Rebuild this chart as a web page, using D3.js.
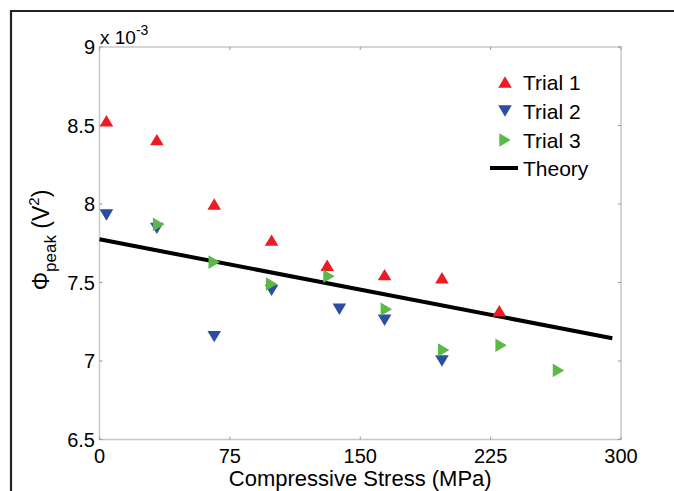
<!DOCTYPE html>
<html>
<head>
<meta charset="utf-8">
<script src="https://cdn.jsdelivr.net/npm/d3@7"></script>
<style>
  html, body { margin: 0; padding: 0; background: #fff; }
  svg { display: block; font-family: "Liberation Sans", Arial, sans-serif; }
</style>
</head>
<body>
<svg id="chart" width="674" height="491"></svg>
<script>
// Peak signal vs compressive stress, three trials plus theory
const xTicks = [0, 75, 150, 225, 300];
const yTicks = [6.5, 7, 7.5, 8, 8.5, 9];

const trial1Stress = [4, 33, 66, 99, 131, 164, 197, 230];
const trial1Phi    = [8.53, 8.41, 8.00, 7.77, 7.61, 7.55, 7.53, 7.32];

const trial2Stress = [4, 33, 66, 99, 138, 164, 197];
const trial2Phi    = [7.93, 7.845, 7.155, 7.45, 7.33, 7.26, 7.00];

const trial3Stress = [34, 66, 99, 132, 165, 198, 231, 264];
const trial3Phi    = [7.87, 7.63, 7.49, 7.54, 7.33, 7.07, 7.10, 6.94];

const theoryStress = [0, 295];
const theoryPhi    = [7.775, 7.145];

const colors = { t1: "#ed1c24", t2: "#2b4ea2", t3: "#5bb947", theory: "#000" };

const svg = d3.select("#chart");
const x = d3.scaleLinear().domain([0, 300]).range([99.5, 621]);
const y = d3.scaleLinear().domain([6.5, 9]).range([439.5, 47]);

// outer frame (top and left edges)
svg.append("path")
  .attr("d", "M11,491 L11,11 L674,11")
  .attr("fill", "none").attr("stroke", "#222").attr("stroke-width", 2.2);

// axes box
svg.append("rect")
  .attr("x", x(0)).attr("y", y(9))
  .attr("width", x(300) - x(0)).attr("height", y(6.5) - y(9))
  .attr("fill", "none").attr("stroke", "#c8c8c8").attr("stroke-width", 1.5);

// inward ticks on all four sides
const tickG = svg.append("g").attr("stroke", "#999").attr("stroke-width", 1);
xTicks.forEach(t => {
  tickG.append("line").attr("x1", x(t)).attr("x2", x(t)).attr("y1", y(6.5)).attr("y2", y(6.5) - 3);
  tickG.append("line").attr("x1", x(t)).attr("x2", x(t)).attr("y1", y(9)).attr("y2", y(9) + 3);
});
yTicks.forEach(t => {
  tickG.append("line").attr("x1", x(0)).attr("x2", x(0) + 3).attr("y1", y(t)).attr("y2", y(t));
  tickG.append("line").attr("x1", x(300)).attr("x2", x(300) - 3).attr("y1", y(t)).attr("y2", y(t));
});

// tick labels
const fmt = d => String(d);
svg.append("g").selectAll("text").data(xTicks).join("text")
  .attr("x", d => x(d)).attr("y", 462.5)
  .attr("text-anchor", "middle").attr("font-size", 20).attr("fill", "#000")
  .text(fmt);
svg.append("g").selectAll("text").data(yTicks).join("text")
  .attr("x", 95).attr("y", d => y(d)).attr("dy", "0.36em")
  .attr("text-anchor", "end").attr("font-size", 20).attr("fill", "#000")
  .text(fmt);

// exponent multiplier
const expo = svg.append("text").attr("x", 100).attr("y", 44).attr("font-size", 19).attr("fill", "#000");
expo.append("tspan").text("x 10");
expo.append("tspan").attr("font-size", 14).attr("dy", -9).text("-3");

// axis titles
svg.append("text")
  .attr("x", (x(0) + x(300)) / 2).attr("y", 486)
  .attr("text-anchor", "middle").attr("font-size", 22).attr("fill", "#000")
  .text("Compressive Stress (MPa)");

const yl = svg.append("text")
  .attr("transform", "translate(49,240) rotate(-90)")
  .attr("text-anchor", "middle").attr("font-size", 23).attr("fill", "#000");
yl.append("tspan").text("Φ");
yl.append("tspan").attr("font-size", 17).attr("dy", 7).text("peak");
yl.append("tspan").attr("dy", -7).text(" (V");
yl.append("tspan").attr("font-size", 15).attr("dy", -10).text("2");
yl.append("tspan").attr("dy", 10).text(")");

// marker shapes
function tri(dir, cx, cy) {
  const w = 6.8, h = 5.7;
  if (dir === "up")   return `M${cx - w},${cy + h} L${cx + w},${cy + h} L${cx},${cy - h} Z`;
  if (dir === "down") return `M${cx - w},${cy - h} L${cx + w},${cy - h} L${cx},${cy + h} Z`;
  return `M${cx - h},${cy - w} L${cx - h},${cy + w} L${cx + h},${cy} Z`;
}

// theory line
const line = d3.line().x(d => x(d[0])).y(d => y(d[1]));
svg.append("path")
  .datum(theoryStress.map((s, i) => [s, theoryPhi[i]]))
  .attr("d", line).attr("fill", "none")
  .attr("stroke", colors.theory).attr("stroke-width", 4);

function drawSeries(xs, ys, dir, color) {
  svg.append("g").selectAll("path").data(xs.map((s, i) => [s, ys[i]])).join("path")
    .attr("d", d => tri(dir, x(d[0]), y(d[1])))
    .attr("fill", color);
}
drawSeries(trial2Stress, trial2Phi, "down", colors.t2);
drawSeries(trial1Stress, trial1Phi, "up", colors.t1);
drawSeries(trial3Stress, trial3Phi, "right", colors.t3);

// legend
const legend = [
  { label: "Trial 1", kind: "up", color: colors.t1 },
  { label: "Trial 2", kind: "down", color: colors.t2 },
  { label: "Trial 3", kind: "right", color: colors.t3 },
  { label: "Theory", kind: "line", color: colors.theory }
];
const legY = [82, 111, 140, 168];
legend.forEach((item, i) => {
  const cy = legY[i];
  if (item.kind === "line") {
    svg.append("line").attr("x1", 490).attr("x2", 518).attr("y1", cy).attr("y2", cy)
      .attr("stroke", item.color).attr("stroke-width", 4);
  } else {
    svg.append("path").attr("d", tri(item.kind, 505, cy)).attr("fill", item.color);
  }
  svg.append("text").attr("x", 523).attr("y", cy).attr("dy", "0.36em")
    .attr("font-size", 21).attr("fill", "#000").text(item.label);
});
</script>
</body>
</html>
